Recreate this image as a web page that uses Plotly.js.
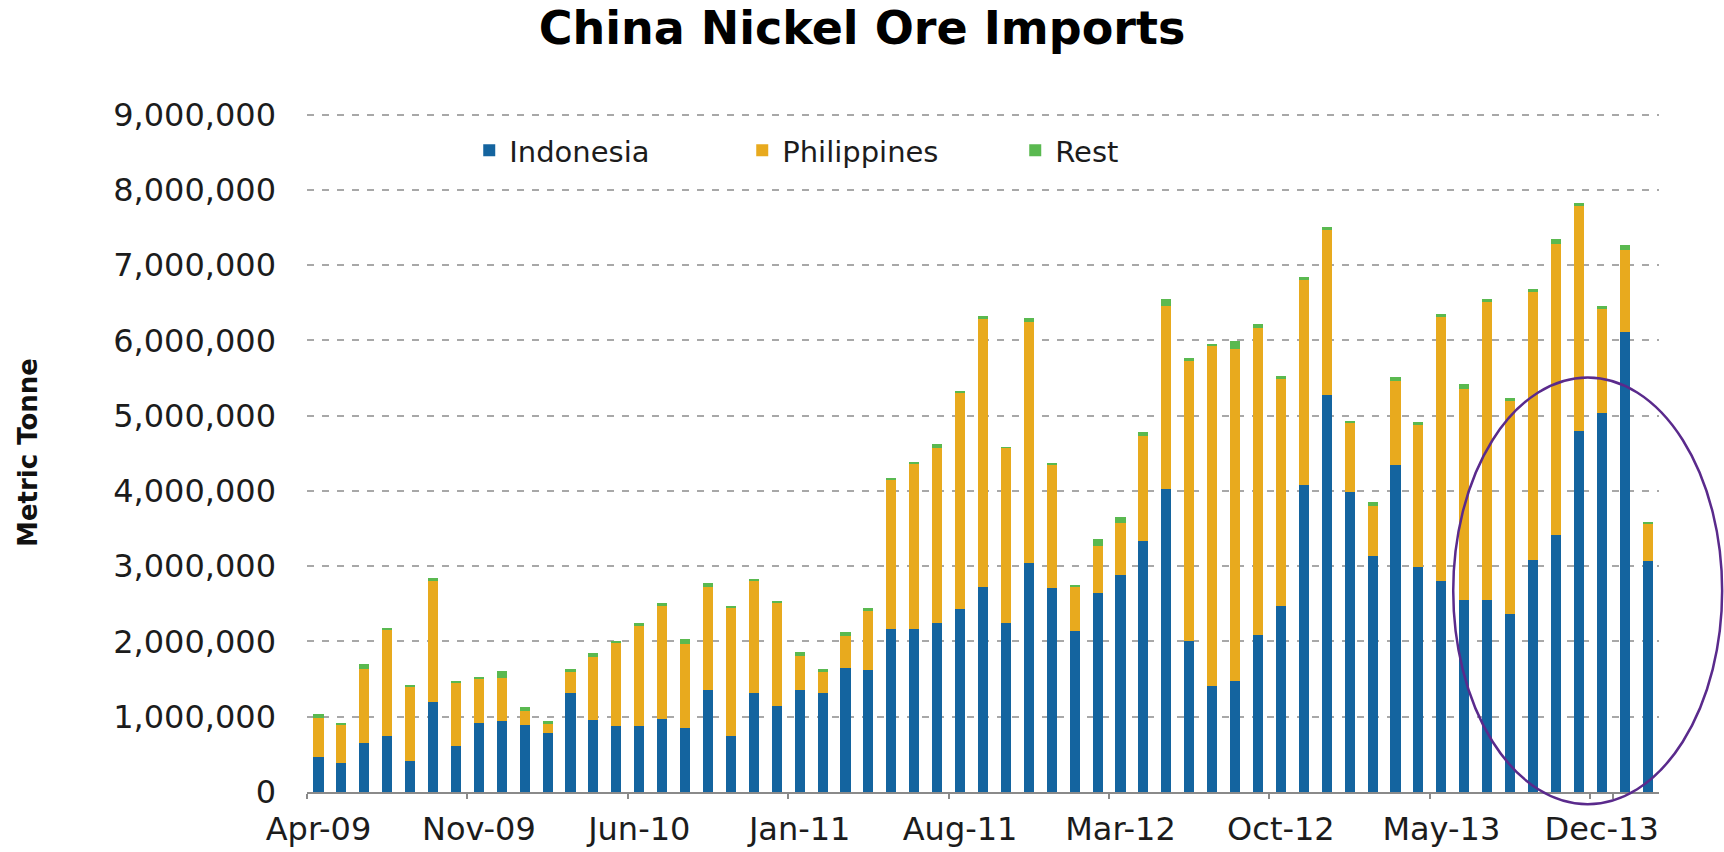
<!DOCTYPE html>
<html>
<head>
<meta charset="utf-8">
<script src="https://cdn.plot.ly/plotly-3.0.1.min.js"></script>
<style>
  html, body { margin: 0; padding: 0; background: #ffffff; }
  #chart { width: 1724px; height: 852px; }
</style>
</head>
<body>
<div id="chart"></div>
<script>
// Months Apr-09 .. Feb-14
const months = [
  "Apr-09","May-09","Jun-09","Jul-09","Aug-09","Sep-09","Oct-09","Nov-09","Dec-09",
  "Jan-10","Feb-10","Mar-10","Apr-10","May-10","Jun-10","Jul-10","Aug-10","Sep-10","Oct-10","Nov-10","Dec-10",
  "Jan-11","Feb-11","Mar-11","Apr-11","May-11","Jun-11","Jul-11","Aug-11","Sep-11","Oct-11","Nov-11","Dec-11",
  "Jan-12","Feb-12","Mar-12","Apr-12","May-12","Jun-12","Jul-12","Aug-12","Sep-12","Oct-12","Nov-12","Dec-12",
  "Jan-13","Feb-13","Mar-13","Apr-13","May-13","Jun-13","Jul-13","Aug-13","Sep-13","Oct-13","Nov-13","Dec-13",
  "Jan-14","Feb-14"
];

// Metric tonnes
const indonesia = [
  460000, 390000, 650000, 750000, 410000, 1190000, 610000, 920000, 940000,
  890000, 790000, 1320000, 960000, 880000, 880000, 970000, 850000, 1360000, 750000, 1320000, 1140000,
  1360000, 1310000, 1650000, 1620000, 2160000, 2160000, 2240000, 2430000, 2720000, 2240000, 3040000, 2710000,
  2140000, 2640000, 2880000, 3330000, 4030000, 2010000, 1410000, 1480000, 2080000, 2470000, 4080000, 5270000,
  3990000, 3140000, 4340000, 2990000, 2800000, 2550000, 2550000, 2360000, 3080000, 3420000, 4790000, 5030000,
  6110000, 3070000
];

const philippines = [
  520000, 510000, 990000, 1400000, 990000, 1625000, 840000, 585000, 580000,
  190000, 125000, 270000, 830000, 1110000, 1325000, 1505000, 1120000, 1367000, 1693000, 1490000, 1373000,
  442000, 286000, 426000, 786000, 1995000, 2200000, 2335000, 2880000, 3565000, 2330000, 3210000, 1635000,
  585000, 630000, 690000, 1400000, 2430000, 3715000, 4510000, 4400000, 4090000, 3010000, 2725000, 2190000,
  915000, 660000, 1125000, 1885000, 3515000, 2804000, 3956000, 2836000, 3565000, 3862000, 3000000, 1386000,
  1084000, 500000
];

const rest = [
  60000, 10000, 60000, 30000, 20000, 25000, 20000, 25000, 90000,
  50000, 25000, 40000, 50000, 10000, 45000, 35000, 60000, 53000, 27000, 20000, 27000,
  58000, 44000, 44000, 44000, 15000, 20000, 45000, 20000, 45000, 10000, 50000, 15000,
  15000, 90000, 80000, 50000, 90000, 35000, 30000, 110000, 50000, 50000, 35000, 40000,
  25000, 50000, 45000, 35000, 35000, 66000, 44000, 44000, 35000, 58000, 40000, 44000,
  66000, 10000
];

const tickLabels = ["Apr-09","Nov-09","Jun-10","Jan-11","Aug-11","Mar-12","Oct-12","May-13","Dec-13"];

const seriesNames = ["Indonesia", "Philippines", "Rest"];
const seriesColors = ["#14649f", "#e8aa1e", "#5ab950"];
const seriesValues = [indonesia, philippines, rest];

const traces = seriesValues.map((vals, i) => ({
  type: "bar",
  name: seriesNames[i],
  x: months,
  y: vals,
  marker: { color: seriesColors[i], line: { width: 0 } },
  hoverinfo: "x+y+name"
}));

const tickFont = { family: "DejaVu Sans, Arial, sans-serif", size: 32, color: "#1c1c1c" };

const layout = {
  width: 1724,
  height: 852,
  paper_bgcolor: "#ffffff",
  plot_bgcolor: "#ffffff",
  barmode: "stack",
  bargap: 0.56,
  margin: { l: 307, r: 65, t: 112.6, b: 60, autoexpand: false },
  title: {
    text: "China Nickel Ore Imports",
    font: { family: "DejaVu Sans, Arial, sans-serif", size: 46, weight: "bold", color: "#000000" },
    x: 0.5, xanchor: "center",
    xref: "container", yref: "container",
    y: 1 - 28 / 852, yanchor: "middle"
  },
  showlegend: true,
  legend: {
    orientation: "h",
    x: 0.12, xanchor: "left",
    y: 0.945, yanchor: "middle",
    font: { family: "DejaVu Sans, Arial, sans-serif", size: 29, color: "#1c1c1c" },
    bgcolor: "rgba(0,0,0,0)",
    entrywidth: 228,
    entrywidthmode: "pixels",
    traceorder: "normal"
  },
  xaxis: {
    type: "category",
    categoryorder: "array",
    categoryarray: months,
    tickmode: "array",
    tickvals: tickLabels,
    ticktext: tickLabels,
    tickson: "boundaries",
    ticks: "outside",
    ticklen: 5,
    tickwidth: 1.5,
    tickcolor: "#8a8a8a",
    showline: true,
    linecolor: "#8a8a8a",
    linewidth: 2,
    showgrid: false,
    tickangle: 0,
    tickfont: tickFont,
    ticklabelstandoff: 8,
    automargin: false
  },
  yaxis: {
    range: [0, 9020000],
    tickmode: "linear",
    tick0: 0,
    dtick: 1000000,
    tickformat: ",d",
    showline: false,
    zeroline: false,
    showgrid: true,
    gridcolor: "#a8a8a8",
    gridwidth: 1.5,
    griddash: "7px,8px",
    ticks: "",
    tickfont: tickFont,
    ticklabelstandoff: 30,
    automargin: false,
    title: {
      text: "Metric Tonne",
      font: { family: "DejaVu Sans, Arial, sans-serif", size: 26, weight: "bold", color: "#111111" },
      standoff: 68
    }
  },
  shapes: [
    {
      type: "circle",
      xref: "paper", yref: "paper",
      x0: 0.8478, x1: 1.0467,
      y0: -0.018, y1: 0.6105,
      line: { color: "#5a2a8c", width: 2.5 },
      fillcolor: "rgba(0,0,0,0)",
      layer: "above"
    }
  ]
};

Plotly.newPlot("chart", traces, layout, { displayModeBar: false, responsive: false });
</script>
</body>
</html>
